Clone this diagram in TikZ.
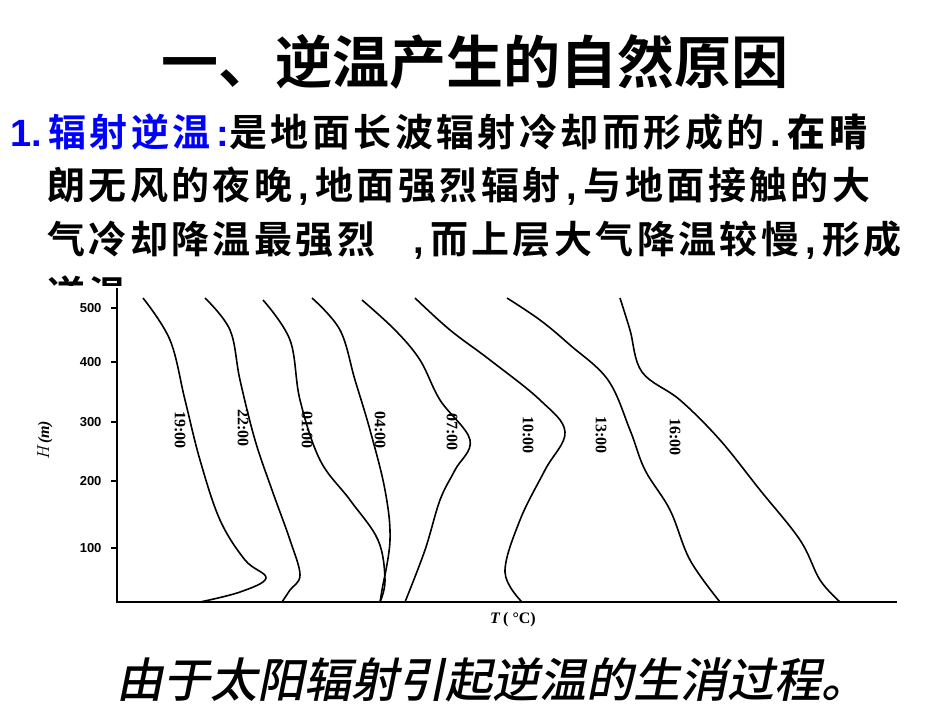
\documentclass[tikz,border=0pt]{standalone}
\usepackage{fontspec}
\setmainfont{Liberation Serif}
\newfontfamily\cjk{Noto Sans CJK SC Bold}
\newfontfamily\cjkb[LetterSpace=9]{Noto Sans CJK SC Bold}
\newfontfamily\cjkit[FakeSlant=0.2]{Noto Sans CJK SC Medium}
\newfontfamily\arl{Liberation Sans}
\begin{document}
\begin{tikzpicture}[x=1pt,y=-1pt,
  curve/.style={line width=1.6pt,black},
  tl/.style={rotate=-90,font=\bfseries\fontsize{16}{16}\selectfont},
  ax/.style={line width=1.5pt},
  yl/.style={anchor=east,font=\arl\bfseries\fontsize{13}{13}\selectfont}]
\useasboundingbox[fill=white] (0,0) rectangle (950,713);
\node (title) at (475,62) {\cjk\fontsize{57}{57}\selectfont 一、逆温产生的自然原因};
\node[anchor=west,inner sep=0] (l1) at (10,132) {\cjkb\fontsize{38}{38}\selectfont\textcolor{blue}{\arl\bfseries 1.}\,\textcolor{blue}{辐射逆温}\,\textcolor{blue}{\arl\bfseries :}是地面长波辐射冷却而形成的\,\arl\bfseries .\,\cjkb 在晴};
\node[anchor=west,inner sep=0] (l2) at (47,186) {\cjkb\fontsize{38}{38}\selectfont 朗无风的夜晚\,{\arl\bfseries ,}\,地面强烈辐射\,{\arl\bfseries ,}\,与地面接触的大};
\node[anchor=west,inner sep=0] (l3) at (47,240) {\cjkb\fontsize{38}{38}\selectfont 气冷却降温最强烈\quad{\arl\bfseries ,}\,而上层大气降温较慢\,{\arl\bfseries ,}\,形成};
\node[anchor=west,inner sep=0] (l4) at (47,294) {\cjkb\fontsize{38}{38}\selectfont 逆温};
\fill[white] (40,286) rectangle (940,640);
% axes
\coordinate (o) at (117,602);
\coordinate (ytop) at (117,288);
\coordinate (xend) at (897,602);
\draw[ax] (ytop) -- (o) -- (xend);
\foreach \v/\y in {500/308,400/362,300/422,200/481,100/548}{
  \draw[ax] (117,\y) -- (111,\y);
  \node[yl] at (105,\y) {\v};}
\node[rotate=90,font=\bfseries\itshape\fontsize{16}{16}\selectfont] (H) at (45,440) {$H$(m)};
\node[font=\bfseries\fontsize{16}{16}\selectfont] (T) at (513,620) {\textit{T}\,( °C)};
% curves
\draw[curve] plot[smooth,tension=0.6] coordinates {(143,298)(170,340)(185,400)(200,460)(220,520)(245,560)(266,578)(240,592)(200,602)};
\draw[curve] plot[smooth,tension=0.6] coordinates {(205,298)(230,330)(240,380)(255,440)(272,490)(290,540)(300,575)(290,590)(282,602)};
\draw[curve] plot[smooth,tension=0.6] coordinates {(263,300)(290,340)(300,400)(320,460)(350,500)(378,540)(385,580)(380,602)};
\draw[curve] plot[smooth,tension=0.6] coordinates {(312,298)(340,330)(355,380)(370,430)(385,490)(390,540)(382,590)(380,602)};
\draw[curve] plot[smooth,tension=0.6] coordinates {(362,300)(395,330)(420,360)(440,400)(470,440)(455,470)(440,500)(425,550)(405,602)};
\draw[curve] plot[smooth,tension=0.6] coordinates {(415,298)(450,330)(490,360)(540,400)(565,432)(545,470)(520,520)(505,572)(522,602)};
\draw[curve] plot[smooth,tension=0.6] coordinates {(507,298)(540,320)(570,345)(608,380)(630,430)(645,470)(670,510)(690,560)(720,602)};
\draw[curve] plot[smooth,tension=0.6] coordinates {(620,298)(630,330)(642,372)(680,400)(720,440)(760,490)(800,540)(820,580)(840,602)};
\foreach \t/\x/\y in {19:00/180/430,22:00/243/428,01:00/307/430,04:00/380/430,07:00/452/432,10:00/528/435,13:00/601/435,16:00/675/437}
  \node[tl] at (\x,\y) {\t};
\node (cap) at (492,680) {\cjkit\fontsize{47}{47}\selectfont 由于太阳辐射引起逆温的生消过程。};
\end{tikzpicture}
\end{document}
